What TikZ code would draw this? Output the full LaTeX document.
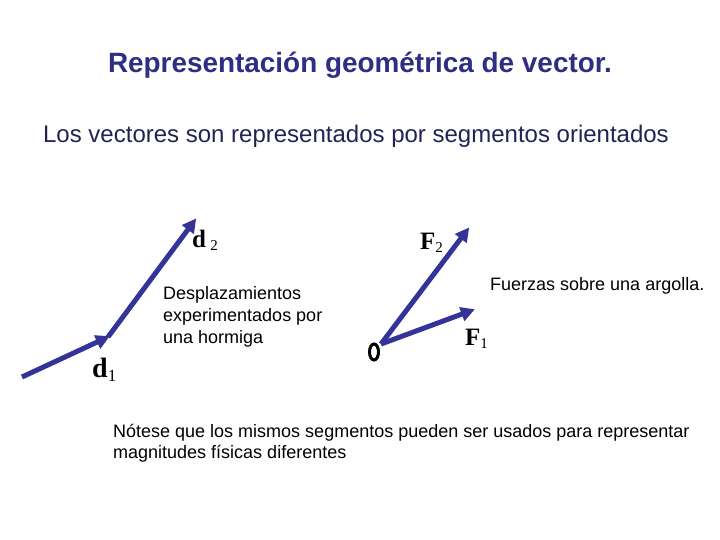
\documentclass[tikz,border=0pt]{standalone}
\usepackage{fontspec}
\setmainfont{Liberation Sans}
\newfontfamily\serifbold{Liberation Serif}
\usetikzlibrary{arrows.meta,shapes.geometric}
\definecolor{navy}{HTML}{333399}
\definecolor{titlec}{HTML}{2E2E85}
\definecolor{textc}{HTML}{222255}
\tikzset{
  vec/.style={draw=navy, line width=5pt, -{Triangle[length=14pt,width=14pt]}, shorten >=-2pt},
  lbl/.style={font=\serifbold\bfseries\fontsize{25}{26}\selectfont, inner sep=0pt},
  small/.style={font=\fontsize{18}{22}\selectfont, align=left, inner sep=0pt, anchor=north west},
}
\begin{document}
\begin{tikzpicture}[x=1pt,y=-1pt]
\useasboundingbox (0,0) rectangle (720,540);
\node[font=\bfseries\fontsize{27.9}{30}\selectfont, text=titlec, inner sep=0pt] (title) at (360,65) {Representación geométrica de vector.};
\node[font=\fontsize{24}{28}\selectfont, text=textc, inner sep=0pt] (sub) at (356,136) {Los vectores son representados por segmentos orientados};
% displacement vectors
\coordinate (a0) at (22,377);
\coordinate (a1) at (108,337);
\coordinate (a2) at (195,220);
\draw[vec] (a0) -- (a1);
\draw[vec] (a1) -- (a2);
\node[lbl, anchor=west] (d2) at (192,240) {d\,\raisebox{-3pt}{\fontsize{15}{15}\selectfont\mdseries 2}};
\node[lbl, anchor=west, font=\serifbold\bfseries\fontsize{28}{28}\selectfont] (d1) at (92,370) {d\raisebox{-4pt}{\fontsize{17}{17}\selectfont\mdseries 1}};
\node[small] (desp) at (163,286) {Desplazamientos\\experimentados por\\una hormiga};
% forces
\node[ellipse, draw=black, line width=3pt, minimum width=9pt, minimum height=16pt, inner sep=0pt] (ring) at (374,352) {};
\coordinate (o) at (381,344);
\coordinate (f2) at (468,229);
\coordinate (f1) at (473,310);
\draw[vec] (o) -- (f2);
\draw[vec] (o) -- (f1);
\node[lbl, anchor=west] (F2) at (420,243) {F\raisebox{-3pt}{\fontsize{15}{15}\selectfont\mdseries 2}};
\node[lbl, anchor=west] (F1) at (465,339) {F\raisebox{-3pt}{\fontsize{15}{15}\selectfont\mdseries 1}};
\node[font=\fontsize{18}{20}\selectfont, inner sep=0pt, anchor=west] (fuer) at (490,286) {Fuerzas sobre una argolla.};
\node[font=\fontsize{18}{21}\selectfont, align=left, inner sep=0pt, anchor=north west] (note) at (113,424) {Nótese que los mismos segmentos pueden ser usados para representar\\magnitudes físicas diferentes};
\end{tikzpicture}
\end{document}
